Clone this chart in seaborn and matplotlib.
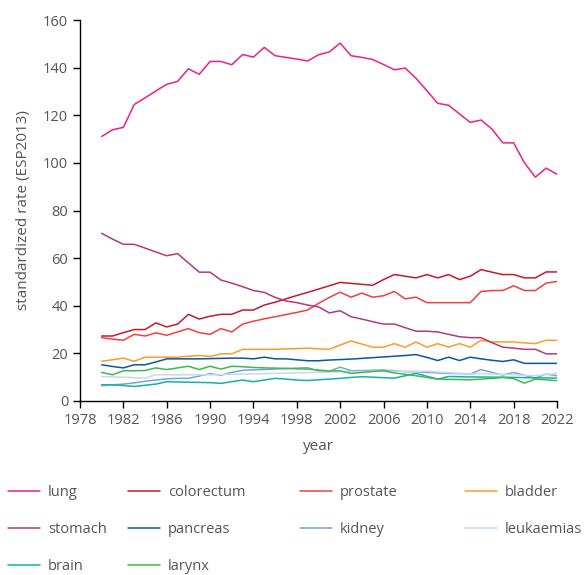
import numpy as np
import pandas as pd
import matplotlib
matplotlib.use("Agg")
import matplotlib.pyplot as plt
import seaborn as sns

years = list(range(1980, 2023))

lung = [111.1, 113.9, 114.9, 124.5, 127.3, 130.2, 133.0, 134.2, 139.5, 137.2,
        142.6, 142.6, 141.2, 145.5, 144.4, 148.5, 145.0, 144.3, 143.6, 142.8,
        145.4, 146.6, 150.3, 145.0, 144.3, 143.4, 141.3, 139.1, 139.8, 135.5,
        130.3, 125.0, 124.2, 120.6, 117.0, 118.0, 114.2, 108.4, 108.4, 100.0,
        94.0, 97.8, 95.2]
colorectum = [27.3, 27.3, 28.7, 30.0, 30.0, 32.8, 31.1, 32.3, 36.4, 34.4,
              35.6, 36.4, 36.4, 38.2, 38.2, 40.3, 41.5, 42.9, 44.3, 45.6,
              47.0, 48.4, 49.8, 49.4, 49.0, 48.6, 51.0, 53.1, 52.4, 51.7,
              53.1, 51.7, 53.1, 51.0, 52.4, 55.2, 54.1, 53.1, 53.1, 51.7,
              51.7, 54.2, 54.2]
prostate = [26.6, 26.0, 25.5, 28.0, 27.3, 28.6, 27.6, 29.0, 30.4, 28.7,
            28.0, 30.4, 29.0, 32.3, 33.5, 34.5, 35.4, 36.3, 37.2, 38.2,
            41.0, 43.5, 45.7, 43.6, 45.3, 43.6, 44.2, 46.0, 42.9, 43.6,
            41.3, 41.3, 41.3, 41.3, 41.3, 46.0, 46.4, 46.4, 48.4, 46.4,
            46.4, 49.5, 50.2]
bladder = [16.7, 17.3, 18.0, 16.7, 18.4, 18.4, 18.4, 18.4, 18.8, 19.1,
           18.7, 19.8, 19.8, 21.7, 21.7, 21.7, 21.7, 21.9, 22.0, 22.2,
           21.9, 21.7, 23.5, 25.2, 23.9, 22.6, 22.6, 24.1, 22.6, 24.8,
           22.6, 24.1, 22.6, 24.1, 22.6, 25.5, 24.8, 24.8, 24.8, 24.4,
           24.1, 25.5, 25.5]
stomach = [70.4, 68.0, 65.8, 65.8, 64.2, 62.6, 61.0, 61.9, 58.0, 54.1,
           54.1, 50.8, 49.5, 48.0, 46.4, 45.6, 43.5, 42.0, 41.3, 40.3,
           39.5, 37.0, 37.9, 35.4, 34.4, 33.3, 32.3, 32.3, 30.8, 29.3,
           29.3, 29.0, 28.0, 27.0, 26.6, 26.6, 24.5, 22.6, 22.2, 21.7,
           21.7, 19.8, 19.8]
pancreas = [15.2, 14.5, 13.9, 15.2, 15.2, 16.4, 17.7, 17.7, 17.7, 17.7,
            17.8, 17.9, 18.0, 18.0, 17.7, 18.4, 17.7, 17.7, 17.3, 16.9,
            16.9, 17.2, 17.4, 17.6, 17.9, 18.2, 18.5, 18.8, 19.1, 19.5,
            18.3, 17.0, 18.4, 17.0, 18.4, 17.7, 17.1, 16.6, 17.3, 15.8,
            15.8, 15.8, 15.8]
kidney = [6.4, 6.8, 7.1, 7.6, 8.3, 8.8, 9.3, 9.5, 9.5, 10.5,
          11.5, 10.8, 12.0, 12.9, 13.1, 13.2, 13.4, 13.6, 13.8, 14.0,
          12.6, 12.5, 14.2, 12.7, 12.8, 12.9, 13.0, 12.7, 12.3, 12.3,
          12.0, 11.8, 11.6, 11.5, 11.3, 13.2, 12.0, 10.9, 12.0, 10.8,
          9.6, 11.3, 10.6]
leukaemias = [10.3, 10.1, 10.0, 9.8, 9.6, 11.0, 11.0, 11.0, 11.0, 11.0,
              11.0, 11.1, 11.2, 11.3, 11.4, 11.5, 11.6, 11.7, 11.8, 11.9,
              12.0, 12.1, 12.2, 12.3, 12.4, 12.5, 12.5, 12.5, 12.5, 12.5,
              12.5, 12.2, 11.9, 11.6, 11.3, 11.5, 11.3, 11.2, 11.0, 10.8,
              10.6, 11.1, 11.6]
brain = [6.8, 6.8, 6.5, 6.1, 6.6, 7.1, 8.1, 8.0, 7.9, 7.8,
         7.7, 7.4, 8.1, 8.8, 8.1, 8.8, 9.5, 9.2, 8.8, 8.6,
         8.9, 9.2, 9.5, 9.9, 10.2, 10.0, 9.8, 9.6, 10.6, 11.6,
         10.4, 9.2, 10.3, 10.2, 10.1, 10.1, 10.0, 10.0, 9.9, 9.8,
         9.7, 9.7, 9.6]
larynx = [12.0, 11.0, 12.7, 12.7, 12.8, 13.9, 13.2, 13.9, 14.6, 13.2,
          14.6, 13.4, 14.6, 14.4, 14.1, 13.9, 13.8, 13.7, 13.5, 13.4,
          13.0, 12.6, 12.7, 11.6, 12.0, 12.4, 12.7, 11.8, 11.2, 10.6,
          9.9, 9.2, 9.1, 9.0, 8.9, 9.2, 9.5, 9.9, 9.4, 7.5,
          9.2, 8.9, 8.5]

series_names = ["lung", "colorectum", "prostate", "bladder", "stomach",
                "pancreas", "kidney", "leukaemias", "brain", "larynx"]
series_values = [lung, colorectum, prostate, bladder, stomach,
                 pancreas, kidney, leukaemias, brain, larynx]
colors = ["#ec1f8c", "#c8182f", "#f2403a", "#fd9a2c", "#b03a7c",
          "#0b56a0", "#73a6dc", "#c7d9ef", "#16aeae", "#3dba4a"]

x_ticks = list(range(1978, 2023, 4))
y_ticks = list(range(0, 161, 20))

df = pd.DataFrame({
    "year": np.tile(years, len(series_names)),
    "rate": np.concatenate([np.array(v, dtype=float) for v in series_values]),
    "cancer": np.repeat(series_names, len(years)),
})

sns.set_style("ticks")
plt.rcParams["font.family"] = ["Open Sans", "DejaVu Sans"]

fig = plt.figure(figsize=(5.86, 5.75), dpi=100)
ax = fig.add_axes([80 / 586, 1 - 401 / 575, (557 - 80) / 586, (401 - 20) / 575])

palette = dict(zip(series_names, colors))
sns.lineplot(data=df, x="year", y="rate", hue="cancer", hue_order=series_names,
             palette=palette, linewidth=1.1, ax=ax, legend=True)

ax.set_xlim(1978, 2022)
ax.set_ylim(0, 160)
ax.set_xticks(x_ticks)
ax.set_yticks(y_ticks)
ax.tick_params(axis="both", labelsize=10.5, labelcolor="#555555", color="black",
               length=5, width=1, direction="out")
for side in ["top", "right"]:
    ax.spines[side].set_visible(False)
for side in ["left", "bottom"]:
    ax.spines[side].set_color("black")
    ax.spines[side].set_linewidth(1)
ax.set_xlabel("year", fontsize=11, color="#555555", labelpad=8)
ax.set_ylabel("standardized rate (ESP2013)", fontsize=11, color="#555555", labelpad=9)

handles, labels = ax.get_legend_handles_labels()
ax.get_legend().remove()
hmap = dict(zip(labels, handles))
columns = [["lung", "stomach", "brain"],
           ["colorectum", "pancreas", "larynx"],
           ["prostate", "kidney"],
           ["bladder", "leukaemias"]]
col_x = [8, 128, 300, 465]
for names, cx in zip(columns, col_x):
    leg = fig.legend([hmap[n] for n in names], names, loc="upper left",
                     bbox_to_anchor=(cx / 586, 1 - 485 / 575),
                     frameon=False, fontsize=10.5, handlelength=2.2,
                     handletextpad=0.55, labelspacing=1.5,
                     borderaxespad=0, borderpad=0, labelcolor="#555555")
    for line in leg.get_lines():
        line.set_linewidth(1.1)

fig.savefig("out.png", dpi=100)
